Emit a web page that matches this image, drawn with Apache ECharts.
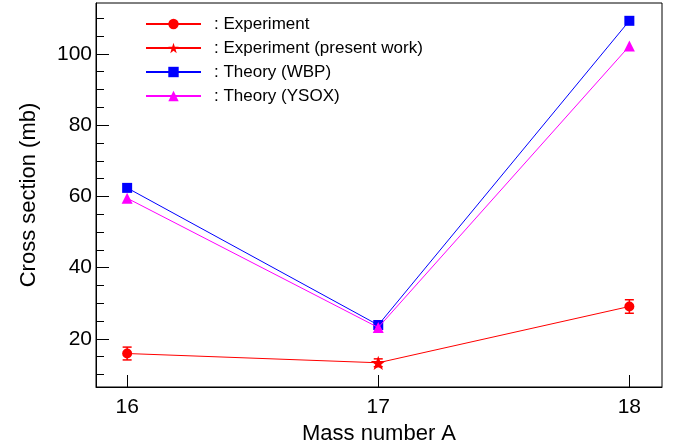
<!DOCTYPE html>
<html>
<head>
<meta charset="utf-8">
<script src="https://cdn.jsdelivr.net/npm/echarts@6/dist/echarts.min.js"></script>
<style>
  html, body { margin: 0; padding: 0; background: #fff; }
  #chart { width: 680px; height: 442px; }
</style>
</head>
<body>
<div id="chart"></div>
<script>
// Mass numbers on the x axis
const massNumbers = [16, 17, 18];
// Measured cross sections (mb) and their uncertainties
const expValues = [15.9, 13.3, 29.1];
const expErrors = [1.8, 1.1, 1.9];
// Index of the point measured in the present work
const presentIndex = 1;
// Theoretical predictions (mb)
const wbpValues = [62.4, 23.9, 109.3];
const ysoxValues = [59.5, 23.2, 102.2];
// Axis tick values
const xTicks = [16, 17, 18];
const yMajorTicks = [20, 40, 60, 80, 100];
const yMinorTicks = [10, 15, 25, 30, 35, 45, 50, 55, 65, 70, 75, 85, 90, 95, 105, 110];

const FONT = '"Liberation Sans", Arial, Helvetica, sans-serif';
const STAR = 'path://M0,-10 L2.35,-3.24 L9.51,-3.09 L3.8,1.24 L5.88,8.09 L0,4 L-5.88,8.09 L-3.8,1.24 L-9.51,-3.09 L-2.35,-3.24 Z';

const pairs = (vals) => massNumbers.map((m, i) => [m, vals[i]]);

const expLine = massNumbers.map((m, i) => ({
  value: [m, expValues[i]],
  symbol: i === presentIndex ? 'none' : 'circle'
}));
const presentPoint = [[massNumbers[presentIndex], expValues[presentIndex]]];
const errorData = massNumbers.map((m, i) => [m, expValues[i] - expErrors[i], expValues[i] + expErrors[i]]);

const yRange = { min: 6.5, max: 114.3 };
const xRange = { min: 15.876, max: 18.13 };

const chart = echarts.init(document.getElementById('chart'), null, { renderer: 'canvas' });

chart.setOption({
  animation: false,
  backgroundColor: '#fff',
  grid: {
    left: 96, top: 3, right: 18, bottom: 55,
    outerBoundsMode: 'none',
    containLabel: false,
    show: true, borderColor: '#000', borderWidth: 1, backgroundColor: 'transparent'
  },
  legend: {
    orient: 'vertical',
    left: 145,
    top: 15,
    padding: 0,
    itemWidth: 55,
    itemHeight: 13,
    itemGap: 6,
    data: ['Experiment', 'Experiment (present work)', 'Theory (WBP)', 'Theory (YSOX)'],
    formatter: (name) => ': ' + name,
    textStyle: { fontFamily: FONT, fontSize: 17, color: '#000', lineHeight: 18, padding: [0, 0, 0, 8] }
  },
  xAxis: {
    type: 'value',
    min: xRange.min,
    max: xRange.max,
    name: 'Mass number A',
    nameLocation: 'middle',
    nameGap: 29,
    nameTextStyle: { fontFamily: FONT, fontSize: 22, color: '#000' },
    axisLine: { show: true, lineStyle: { color: '#000', width: 1 } },
    axisTick: { show: true, inside: true, length: 12, customValues: xTicks, lineStyle: { color: '#000' } },
    axisLabel: { customValues: xTicks, fontFamily: FONT, fontSize: 21, color: '#000', margin: 10 },
    splitLine: { show: false }
  },
  yAxis: [
    {
      type: 'value',
      min: yRange.min,
      max: yRange.max,
      name: 'Cross section (mb)',
      nameLocation: 'middle',
      nameGap: 56,
      nameTextStyle: { fontFamily: FONT, fontSize: 22, color: '#000' },
      axisLine: { show: true, lineStyle: { color: '#000', width: 1 } },
      axisTick: { show: true, inside: true, length: 13, customValues: yMajorTicks, lineStyle: { color: '#000' } },
      axisLabel: { customValues: yMajorTicks, fontFamily: FONT, fontSize: 21, color: '#000', margin: 4 },
      splitLine: { show: false }
    },
    {
      type: 'value',
      position: 'left',
      min: yRange.min,
      max: yRange.max,
      axisLine: { show: false },
      axisTick: { show: true, inside: true, length: 8, customValues: yMinorTicks, lineStyle: { color: '#000' } },
      axisLabel: { show: false },
      splitLine: { show: false }
    }
  ],
  series: [
    {
      name: 'Theory (WBP)',
      type: 'line',
      data: pairs(wbpValues),
      symbol: 'rect',
      symbolSize: 10,
      lineStyle: { color: '#0000ff', width: 1 },
      itemStyle: { color: '#0000ff' },
      z: 2
    },
    {
      name: 'Theory (YSOX)',
      type: 'line',
      data: pairs(ysoxValues),
      symbol: 'triangle',
      symbolSize: 11,
      lineStyle: { color: '#ff00ff', width: 1 },
      itemStyle: { color: '#ff00ff' },
      z: 3
    },
    {
      name: 'Experiment',
      type: 'line',
      data: expLine,
      symbol: 'circle',
      symbolSize: 10,
      showAllSymbol: true,
      lineStyle: { color: '#ff0000', width: 1 },
      itemStyle: { color: '#ff0000' },
      z: 4
    },
    {
      name: 'Experiment (present work)',
      type: 'line',
      data: presentPoint,
      symbol: STAR,
      symbolSize: 15,
      symbolKeepAspect: true,
      lineStyle: { color: '#ff0000', width: 1 },
      itemStyle: { color: '#ff0000' },
      z: 5
    },
    {
      name: 'errors',
      type: 'custom',
      data: errorData,
      z: 6,
      renderItem: (params, api) => {
        const x = api.value(0);
        const lo = api.coord([x, api.value(1)]);
        const hi = api.coord([x, api.value(2)]);
        const hw = 4.5;
        const style = { stroke: '#ff0000', lineWidth: 1.5 };
        return {
          type: 'group',
          children: [
            { type: 'line', shape: { x1: lo[0], y1: lo[1], x2: hi[0], y2: hi[1] }, style },
            { type: 'line', shape: { x1: lo[0] - hw, y1: lo[1], x2: lo[0] + hw, y2: lo[1] }, style },
            { type: 'line', shape: { x1: hi[0] - hw, y1: hi[1], x2: hi[0] + hw, y2: hi[1] }, style }
          ]
        };
      },
      encode: { x: 0, y: [1, 2] }
    }
  ]
});
</script>
</body>
</html>
